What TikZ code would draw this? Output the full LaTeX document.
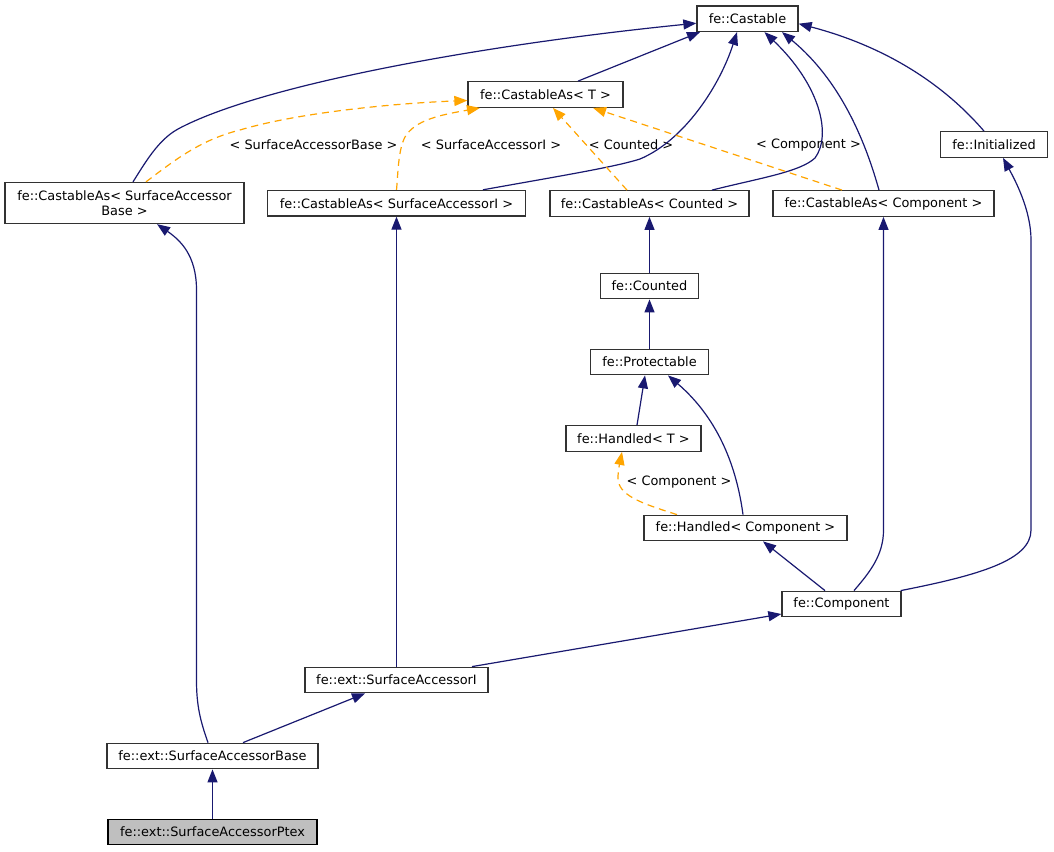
\documentclass[tikz,border=0pt]{standalone}
\usepackage{fontspec}
\setmainfont{DejaVu Sans}
\usetikzlibrary{arrows.meta}
\definecolor{navy}{RGB}{25,25,112}
\definecolor{tmplorange}{RGB}{255,165,0}
\definecolor{boxgray}{RGB}{50,50,50}
\begin{document}
\begin{tikzpicture}[x=1pt,y=-1pt,
  box/.style={draw=boxgray, line width=1.3pt, fill=white, inner sep=0pt, minimum height=25.5pt,
    font=\fontsize{12.9}{15}\selectfont, align=center},
  selbox/.style={box, draw=black, fill={rgb,255:red,191;green,191;blue,191}},
  inh/.style={draw=navy, line width=1.2pt, -{Triangle[length=13pt,width=10pt,fill=navy]}},
  tmpl/.style={draw=tmplorange, line width=1.2pt, dash pattern=on 7pt off 5pt,
    -{Triangle[length=13pt,width=10pt,fill=tmplorange]}},
  lbl/.style={inner sep=0pt, font=\fontsize{12.9}{15}\selectfont}]
\path[use as bounding box, fill=white] (0,0) rectangle (1054,851);

% nodes
\node[box, minimum width=101pt] (castable) at (747.5,18.7) {fe::Castable};
\node[box, minimum width=155pt] (castT) at (545.5,94.5) {fe::CastableAs< T >};
\node[box, minimum width=107pt] (init) at (994,144.5) {fe::Initialized};
\node[box, minimum width=239pt, minimum height=41pt] (sab) at (124.5,203) {fe::CastableAs< SurfaceAccessor\\Base >};
\node[box, minimum width=258pt] (saic) at (396.5,203.2) {fe::CastableAs< SurfaceAccessorI >};
\node[box, minimum width=199pt] (countedc) at (649.5,203.5) {fe::CastableAs< Counted >};
\node[box, minimum width=221pt] (compc) at (883.5,203.5) {fe::CastableAs< Component >};
\node[box, minimum width=98pt] (counted) at (649.5,286) {fe::Counted};
\node[box, minimum width=118pt] (prot) at (649.5,362) {fe::Protectable};
\node[box, minimum width=135pt] (handT) at (633.5,438.5) {fe::Handled< T >};
\node[box, minimum width=203pt] (handC) at (745.5,528) {fe::Handled< Component >};
\node[box, minimum width=119pt] (comp) at (841.5,604) {fe::Component};
\node[box, minimum width=183pt] (sai) at (396.5,680) {fe::ext::SurfaceAccessorI};
\node[box, minimum width=211pt] (sabase) at (212.5,756) {fe::ext::SurfaceAccessorBase};
\node[selbox, minimum width=209pt] (ptex) at (212.5,832) {fe::ext::SurfaceAccessorPtex};

% labels
\node[lbl] (l1) at (313.5,145) {< SurfaceAccessorBase >};
\node[lbl] (l2) at (491,145) {< SurfaceAccessorI >};
\node[lbl] (l3) at (631,145) {< Counted >};
\node[lbl] (l4) at (808.5,145) {< Component >};
\node[lbl] (l5) at (679,482) {< Component >};

% inheritance edges
\draw[inh] ([xshift=8.5pt]sab.north) .. controls (145,163) and (158,140) .. (178,129)
  .. controls (260,85) and (480,45) .. ([yshift=-4.5pt]castable.west);
\draw[inh] ([xshift=32.5pt]castT.north) -- ([xshift=-47.5pt]castable.south);
\draw[inh] ([xshift=86.5pt]saic.north) .. controls (560,176) and (615,167) .. (640,159)
  .. controls (685,140) and (720,85) .. ([xshift=-10.5pt]castable.south);
\draw[inh] ([xshift=62.5pt]countedc.north) .. controls (760,178) and (800,172) .. (815,158)
  .. controls (832,135) and (820,85) .. ([xshift=17pt]castable.south);
\draw[inh] ([xshift=-4.5pt]compc.north) .. controls (865,140) and (840,80) .. ([xshift=34.5pt]castable.south);
\draw[inh] ([xshift=-10pt]init.north) .. controls (940,80) and (880,45) .. ([yshift=-5pt]castable.east);
\draw[inh] ([xshift=-1pt]comp.north east) .. controls (980,575) and (1031,560) .. (1031,530)
  -- (1031,240) .. controls (1031,210) and (1015,180) .. ([xshift=9pt]init.south);
\draw[inh] ([xshift=12.5pt]comp.north) .. controls (870,572) and (883.5,555) .. (883.5,530) -- (compc.south);
\draw[inh] ([xshift=-2.5pt]handC.north) .. controls (737,470) and (720,420) .. ([xshift=18.5pt]prot.south);
\draw[inh] ([xshift=3.5pt]handT.north) -- ([xshift=-4.5pt]prot.south);
\draw[inh] (prot.north) -- (counted.south);
\draw[inh] (counted.north) -- (countedc.south);
\draw[inh] ([xshift=-16.5pt]comp.north) -- ([xshift=17.5pt]handC.south);
\draw[inh] ([xshift=75.5pt]sai.north) -- ([yshift=-10pt]comp.west);
\draw[inh] (sai.north) -- (saic.south);
\draw[inh] ([xshift=30.5pt]sabase.north) -- ([xshift=-31.5pt]sai.south);
\draw[inh] ([xshift=-4.5pt]sabase.north) .. controls (200,720) and (196.5,705) .. (196.5,680)
  -- (196.5,290) .. controls (196.5,255) and (180,240) .. ([xshift=32.5pt]sab.south);
\draw[inh] (ptex.north) -- (sabase.south);

% template instance edges
\draw[tmpl] ([xshift=21.5pt]sab.north) .. controls (175,160) and (200,140) .. (240,130)
  .. controls (300,112) and (400,103) .. ([yshift=-6pt]castT.west);
\draw[tmpl] (saic.north) .. controls (398,175) and (398,150) .. (405,137)
  .. controls (415,120) and (440,115) .. ([xshift=-65.5pt]castT.south);
\draw[tmpl] ([xshift=-22.5pt]countedc.north) -- ([xshift=7.5pt]castT.south);
\draw[tmpl] ([xshift=-41.5pt]compc.north) -- ([xshift=47.5pt]castT.south);
\draw[tmpl] ([xshift=-68.5pt]handC.north) .. controls (640,503) and (618,495) .. (618,478)
  .. controls (618,470) and (620,462) .. ([xshift=-11.5pt]handT.south);
\end{tikzpicture}
\end{document}
